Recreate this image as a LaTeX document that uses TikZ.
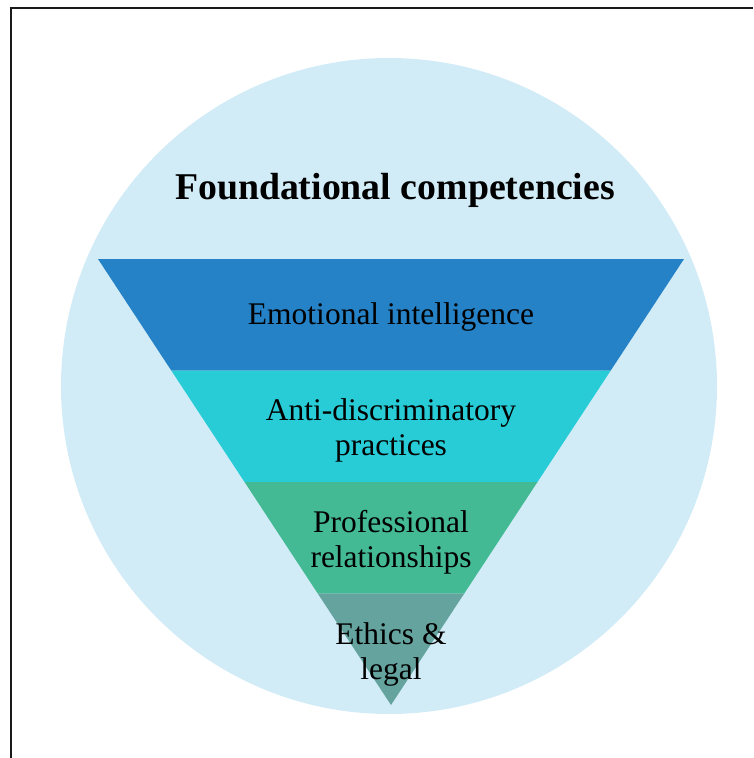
\documentclass[tikz,border=0pt]{standalone}
\usepackage{fontspec}
\setmainfont{Liberation Serif}
\usetikzlibrary{calc}

\definecolor{bubblecol}{HTML}{D2ECF7}
\definecolor{bandA}{HTML}{2582C6}
\definecolor{bandB}{HTML}{27CCD7}
\definecolor{bandC}{HTML}{44BA94}
\definecolor{bandD}{HTML}{65A39F}
\definecolor{framecol}{HTML}{1A1A1A}

\tikzset{
    frameline/.style={draw=framecol, line width=2pt},
    label/.style={align=center, inner sep=0pt, font=\fontsize{31.5}{35}\selectfont},
    heading/.style={inner sep=0pt, font=\fontsize{37.8}{45}\selectfont\bfseries}
}

\begin{document}
\begin{tikzpicture}[x=1pt, y=-1pt]
        \useasboundingbox (0,0) rectangle (753,758);
        \draw[frameline] (10.5,758) -- (10.5,7.5) -- (753,7.5);

        \fill[bubblecol] (389,386) circle[radius=328pt];

        \coordinate (tl) at (98,259);
        \coordinate (tr) at (684,259);
        \coordinate (apex) at (391,705);

        \foreach \a/\b/\col in {0/0.25/bandA, 0.25/0.5/bandB, 0.5/0.75/bandC, 0.75/1/bandD}
        {
            \fill[\col] ($(tl)!\a!(apex)$) -- ($(tr)!\a!(apex)$) -- ($(tr)!\b!(apex)$) -- ($(tl)!\b!(apex)$) -- cycle;
        }

        \node[heading] (title) at (395,190) {Foundational competencies};
        \node[label] (emotional) at (391,317) {Emotional intelligence};
        \node[label] (antidisc) at (391,430) {Anti-discriminatory\\practices};
        \node[label] (professional) at (391,542) {Professional\\relationships};
        \node[label] (ethics) at (391,654) {Ethics \&\\legal};
    \end{tikzpicture}
\end{document}
